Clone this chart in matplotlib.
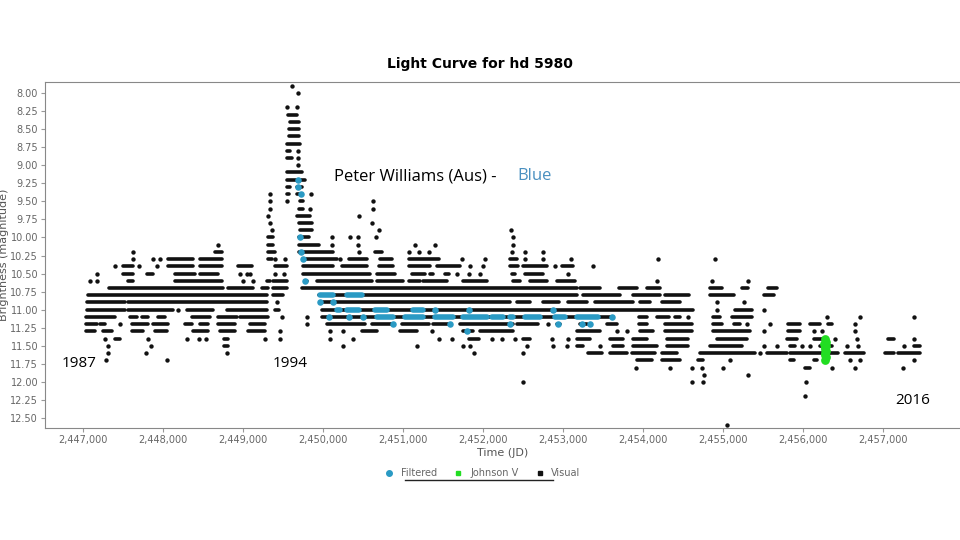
import matplotlib
matplotlib.use("Agg")
import matplotlib.pyplot as plt
from matplotlib.ticker import FuncFormatter
from matplotlib.lines import Line2D

# JD offset
JD0 = 2440000

# visual observations: runs of dense points per magnitude row, (start, end) in JD - 2440000
r79 = [(9608, 9608)]
r80 = [(9683, 9683)]
r82 = [(9546, 9546), (9671, 9671)]
r83 = [(9558, 9671)]
r84 = [(9588, 9692)]
r85 = [(9579, 9704)]
r86 = [(9567, 9704)]
r87 = [(9546, 9713)]
r88 = [(9546, 9588), (9683, 9683)]
r89 = [(9546, 9608), (9683, 9683)]
r90 = [(9683, 9683)]
r91 = [(9546, 9733)]
r92 = [(9546, 9775)]
r93 = [(9546, 9588), (9671, 9733)]
r94 = [(9338, 9338), (9546, 9567), (9671, 9733), (9850, 9850)]
r95 = [(9338, 9338), (9546, 9546), (9713, 9754), (10629, 10629)]
r96 = [(9338, 9338), (9692, 9754), (9838, 9838), (10625, 10625)]
r97 = [(9317, 9317), (9671, 9838), (10442, 10442)]
r98 = [(9338, 9338), (9692, 9858), (10608, 10608)]
r99 = [(9358, 9358), (9713, 9858), (10704, 10704), (12350, 12350)]
r100 = [(9317, 9379), (9692, 9817), (10108, 10108), (10338, 10338), (10433, 10433),
        (10663, 10663), (12379, 12379)]
r101 = [(8692, 8692), (9317, 9379), (9692, 9942), (10108, 10108), (10433, 10433),
        (11150, 11150), (11400, 11400), (12370, 12370)]
r102 = [(7629, 7629), (8650, 8733), (9317, 9400), (9692, 10129), (10442, 10442),
        (10650, 10733), (11067, 11067), (11192, 11192), (11317, 11317), (12358, 12358),
        (12525, 12525), (12754, 12754)]
r103 = [(7629, 7629), (7879, 7879), (7963, 7963), (8067, 8379), (8463, 8733), (9317, 9358),
        (9400, 9400), (9525, 9525), (9754, 10171), (10213, 10213), (10317, 10546),
        (10713, 10858), (11067, 11442), (11733, 11733), (12025, 12025), (12337, 12420),
        (12525, 12525), (12754, 12754), (13095, 13095), (14191, 14191), (14900, 14900)]
r104 = [(7400, 7400), (7504, 7629), (7704, 7704), (7921, 7921), (8067, 8379), (8463, 8733),
        (8942, 9108), (9400, 9546), (9754, 10129), (10233, 10546), (10692, 10879),
        (11067, 11338), (11421, 11713), (11838, 11838), (12004, 12004), (12337, 12441),
        (12504, 12796), (12900, 12900), (12983, 13129), (13379, 13379)]
r105 = [(7179, 7179), (7504, 7629), (7796, 7879), (8150, 8400), (8463, 8692), (8963, 8963),
        (9046, 9046), (9088, 9088), (9400, 9400), (9508, 9508), (9746, 10588), (10671, 10900),
        (11109, 11275), (11338, 11379), (11525, 11567), (11671, 11671), (11817, 11817),
        (11962, 11962), (12358, 12400), (12525, 12754), (13066, 13066)]
r106 = [(7088, 7088), (7179, 7179), (7567, 7629), (8150, 8733), (9004, 9004), (9129, 9129),
        (9296, 9338), (9379, 9546), (9775, 9796), (9921, 10608), (10671, 11004),
        (11067, 11213), (11254, 11546), (11754, 12045), (12379, 12462), (12587, 12796),
        (12920, 13150), (14170, 14170), (14858, 14858), (15316, 15316)]
r107 = [(7329, 8754), (8817, 9129), (9233, 9317), (9379, 9546), (9733, 13170), (13212, 13462),
        (13692, 13921), (14046, 14212), (14837, 14983), (15233, 15316), (15566, 15671)]
r108 = [(7067, 9296), (9379, 9504), (9942, 13170), (13254, 13712), (13879, 14212),
        (14275, 14567), (14837, 15129), (15504, 15629)]
r109 = [(7054, 7525), (7567, 9296), (9421, 9421), (10004, 12337), (12420, 12587),
        (12754, 12942), (13066, 13296), (13400, 13879), (13962, 14087), (14233, 14462),
        (14921, 14921), (15254, 15254)]
r110 = [(7054, 7525), (7567, 8129), (8192, 8192), (8296, 8629), (8796, 9296), (9400, 9442),
        (9983, 14629), (14921, 14921), (15150, 15358), (15504, 15504)]
r111 = [(7037, 7400), (7587, 7671), (7733, 7817), (7942, 8025), (8358, 8588), (8692, 8921),
        (8963, 9317), (9483, 9483), (9796, 9796), (9983, 13629), (13942, 14046),
        (14171, 14317), (14400, 14462), (14566, 14566), (14879, 14962), (15108, 15358),
        (16296, 16296), (16712, 16712), (17379, 17379)]
r112 = [(7037, 7171), (7213, 7275), (7463, 7463), (7608, 7817), (7879, 8067), (8275, 8358),
        (8463, 8567), (8692, 8900), (9087, 9275), (9796, 9796), (10046, 10525),
        (10608, 10858), (10983, 11317), (11379, 11567), (11713, 12379), (12421, 12691),
        (12816, 12816), (12921, 12962), (13212, 13296), (13546, 13671), (13942, 14046),
        (14275, 14608), (14879, 14983), (15129, 15212), (15296, 15296), (15587, 15587),
        (15816, 15962), (16087, 16212), (16316, 16358), (16649, 16649)]
r113 = [(7037, 7150), (7254, 7358), (7608, 7754), (7900, 8046), (8379, 8567), (8713, 8900),
        (9067, 9275), (9463, 9463), (10088, 10088), (10254, 10254), (10483, 10671),
        (10963, 11171), (11358, 11358), (11754, 11879), (11962, 12379), (13170, 13462),
        (13670, 13670), (13795, 13795), (13962, 14129), (14275, 14608), (14879, 15337),
        (15504, 15504), (15816, 15962), (16129, 16129), (16233, 16233), (16649, 16649)]
r114 = [(7275, 7275), (7400, 7463), (7817, 7817), (8296, 8296), (8450, 8450), (8533, 8533),
        (8763, 8817), (9275, 9275), (9463, 9463), (10088, 10088), (10371, 10371),
        (11442, 11442), (11608, 11608), (11817, 11942), (12108, 12108), (12233, 12233),
        (12400, 12400), (12504, 12587), (12858, 12858), (13066, 13066), (13170, 13337),
        (13587, 13754), (13879, 14046), (14295, 14566), (14921, 15296), (15795, 15920),
        (16129, 16254), (16400, 16400), (16670, 16670), (17066, 17129), (17379, 17379)]
r115 = [(7317, 7317), (7850, 7850), (8763, 8817), (10254, 10254), (11171, 11171),
        (11746, 11746), (11838, 11838), (12545, 12545), (12870, 12870), (13045, 13045),
        (13170, 13254), (13462, 13462), (13629, 13754), (13879, 14170), (14295, 14566),
        (14837, 15233), (15504, 15504), (15671, 15671), (15837, 15900), (15983, 15983),
        (16087, 16087), (16212, 16358), (16545, 16545), (16691, 16691), (17254, 17254),
        (17379, 17462)]
r116 = [(7317, 7317), (7788, 7788), (8796, 8796), (11888, 11888), (12504, 12504),
        (13316, 13483), (13587, 13795), (13858, 14150), (14233, 14420), (14712, 15400),
        (15462, 15462), (15545, 15795), (15837, 16441), (16525, 16754), (17025, 17129),
        (17191, 17462)]
r117 = [(7288, 7288), (8046, 8046), (13921, 14108), (14233, 14462), (14691, 14754),
        (15087, 15087), (15837, 15879), (16129, 16170), (16587, 16587), (16712, 16712),
        (17379, 17379)]
r118 = [(13912, 13912), (14337, 14337), (14608, 14608), (14733, 14733), (14995, 14995),
        (16025, 16087), (16358, 16358), (16650, 16650), (17246, 17246)]
r119 = [(14762, 14762), (15316, 15316)]
r120 = [(12504, 12504), (14608, 14608), (14754, 14754), (16037, 16037)]
r122 = [(16025, 16025)]
r126 = [(15054, 15054)]

visual_mags = [7.9, 8.0, 8.2, 8.3, 8.4, 8.5, 8.6, 8.7, 8.8, 8.9, 9.0, 9.1, 9.2, 9.3, 9.4, 9.5,
               9.6, 9.7, 9.8, 9.9, 10.0, 10.1, 10.2, 10.3, 10.4, 10.5, 10.6, 10.7, 10.8, 10.9,
               11.0, 11.1, 11.2, 11.3, 11.4, 11.5, 11.6, 11.7, 11.8, 11.9, 12.0, 12.2, 12.6]
visual_runs = [r79, r80, r82, r83, r84, r85, r86, r87, r88, r89, r90, r91, r92, r93, r94, r95,
               r96, r97, r98, r99, r100, r101, r102, r103, r104, r105, r106, r107, r108, r109,
               r110, r111, r112, r113, r114, r115, r116, r117, r118, r119, r120, r122, r126]

# filtered (Peter Williams) observations
f92 = [(9683, 9683)]
f93 = [(9683, 9683)]
f94 = [(9725, 9725)]
f100 = [(9713, 9713)]
f102 = [(9725, 9725)]
f103 = [(9754, 9754)]
f106 = [(9775, 9775)]
f108 = [(9963, 10129), (10296, 10483)]
f109 = [(9963, 9963), (10129, 10129)]
f110 = [(10171, 10213), (10296, 10442), (10650, 10796), (11129, 11254), (11400, 11400),
        (11817, 11817), (12870, 12870)]
f111 = [(10067, 10067), (10317, 10317), (10504, 10504), (10671, 10879), (11025, 11254),
        (11400, 11629), (11754, 12045), (12108, 12254), (12337, 12379), (12525, 12712),
        (12900, 13025), (13170, 13441), (13608, 13608)]
f112 = [(10879, 10879), (11588, 11588), (12337, 12337), (12941, 12941), (13233, 13233),
        (13337, 13337)]
f113 = [(11796, 11796)]

filt_mags = [9.2, 9.3, 9.4, 10.0, 10.2, 10.3, 10.6, 10.8, 10.9, 11.0, 11.1, 11.2, 11.3]
filt_runs = [f92, f93, f94, f100, f102, f103, f106, f108, f109, f110, f111, f112, f113]

# Johnson V
green_jd = [16270, 16280, 16265, 16285, 16275, 16270, 16280, 16275, 16268, 16282, 16275]
green_mag = [11.40, 11.44, 11.47, 11.50, 11.52, 11.55, 11.57, 11.60, 11.63, 11.66, 11.70]

BLACK = "#111111"
BLUE = "#2a9ac4"
GREEN = "#22dd22"

fig = plt.figure(figsize=(9.6, 5.4), dpi=100)
ax = fig.add_axes([0.047, 0.207, 0.953, 0.641])


def draw(mags, runs, color, lw, s, z):
    for m, rr in zip(mags, runs):
        for a, b in rr:
            if a == b:
                ax.scatter([a + JD0], [m], s=s, color=color, zorder=z, linewidths=0)
            else:
                ax.hlines(m, a + JD0, b + JD0, colors=color, lw=lw, capstyle='round', zorder=z)


draw(visual_mags, visual_runs, BLACK, 2.6, 10, 2)
draw(filt_mags, filt_runs, BLUE, 4.0, 22, 3)
ax.scatter([j + JD0 for j in green_jd], green_mag, s=40, color=GREEN, zorder=4, linewidths=0)

ax.set_xlim(2446525, 2457960)
ax.set_ylim(12.64, 7.85)
ax.set_xticks(range(2447000, 2458000, 1000))
ax.set_yticks([8 + 0.25 * i for i in range(19)])
ax.xaxis.set_major_formatter(FuncFormatter(lambda v, p: f"{int(v):,}"))
ax.yaxis.set_major_formatter(FuncFormatter(lambda v, p: f"{v:.2f}"))
ax.tick_params(colors="#999999", labelsize=7, length=3, pad=2, labelcolor="#666666")
for sp in ["top", "left", "bottom"]:
    ax.spines[sp].set_color("#888888")
ax.spines["right"].set_visible(False)
ax.set_xlabel("Time (JD)", fontsize=8, color="#555555", labelpad=2)
ax.set_ylabel("Brightness (magnitude)", fontsize=8, color="#555555", labelpad=1)

fig.text(0.5, 0.874, "Light Curve for hd 5980", ha="center", fontsize=10, fontweight="bold")

ax.text(2450140, 9.15, "Peter Williams (Aus) - ", fontsize=12, family="Open Sans", va="center")
ax.text(2452430, 9.15, "Blue", fontsize=12, family="Open Sans", color="#4a90c0", va="center")
ax.text(2446730, 11.74, "1987", fontsize=11, family="Open Sans", va="center")
ax.text(2449370, 11.74, "1994", fontsize=11, family="Open Sans", va="center")
ax.text(2457150, 12.26, "2016", fontsize=11, family="Open Sans", va="center")

handles = [Line2D([], [], marker="o", ls="", color=BLUE, markersize=4),
           Line2D([], [], marker="s", ls="", color=GREEN, markersize=3),
           Line2D([], [], marker="s", ls="", color=BLACK, markersize=3)]
leg = fig.legend(handles, ["Filtered", "Johnson V", "Visual"], loc="center",
                 bbox_to_anchor=(0.5, 0.124), ncol=3, frameon=False, fontsize=7,
                 handletextpad=0.2, columnspacing=1.2)
for t in leg.get_texts():
    t.set_color("#666666")
fig.add_artist(Line2D([0.422, 0.576], [0.111, 0.111], color="#222222", lw=1))

fig.savefig("out.png", dpi=100)
